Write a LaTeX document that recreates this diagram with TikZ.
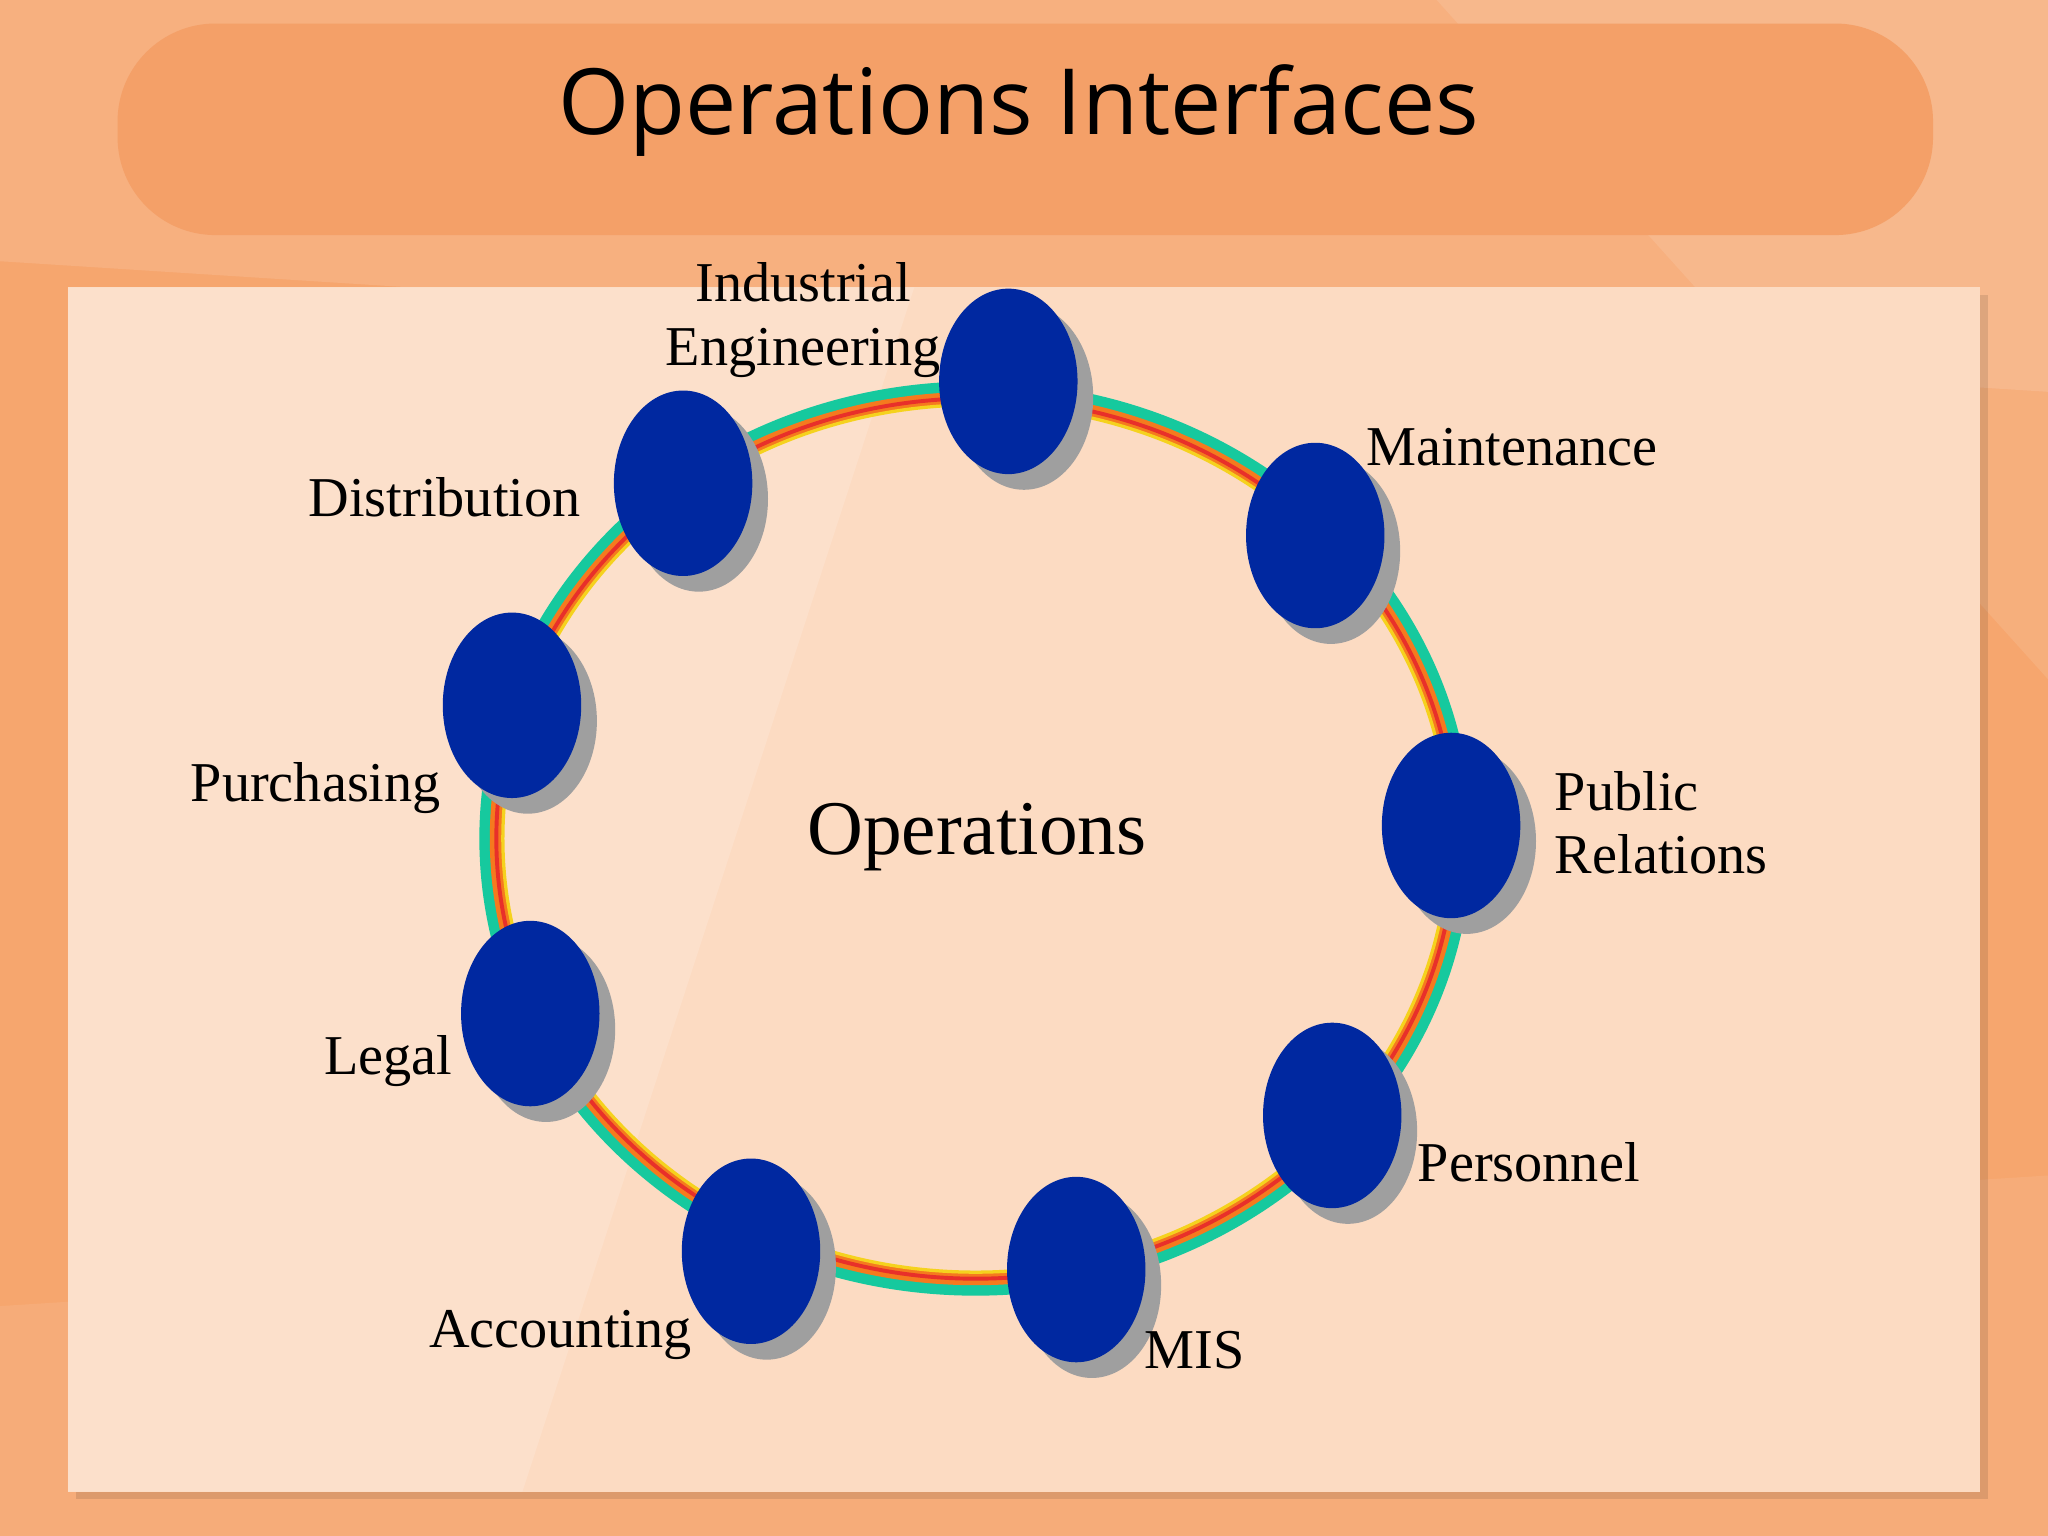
\documentclass[tikz,border=0pt]{standalone}
\usepackage{fontspec}
\setmainfont{Liberation Serif}
\newfontfamily\titlefont{Open Sans}
\usetikzlibrary{shapes.geometric}
\definecolor{bgor}{HTML}{F6A66E}
\definecolor{band}{HTML}{F4A068}
\definecolor{panel}{HTML}{FCDBC2}
\definecolor{navy}{HTML}{0028A0}
\definecolor{teal}{HTML}{16C99E}
\definecolor{ringor}{HTML}{F57A1E}
\definecolor{ringred}{HTML}{E8302A}
\definecolor{ringyel}{HTML}{F5D21E}
\newlength{\myu}\setlength{\myu}{0.01306cm}
\tikzset{
 dot/.style={ellipse,minimum width=106\myu,minimum height=142\myu,fill=navy,inner sep=0pt},
 shad/.style={ellipse,minimum width=106\myu,minimum height=142\myu,fill=gray!75,inner sep=0pt},
 lbl/.style={font=\fontsize{16}{18}\selectfont,inner sep=0pt},
}
\begin{document}
\begin{tikzpicture}[x=0.01306cm,y=-0.01306cm]
\useasboundingbox (0,0) rectangle (1568,1176);
\fill[bgor] (0,0) rectangle (1568,1176);
\fill[white,opacity=0.12] (0,0) -- (1568,0) -- (1568,300) -- (0,200) -- cycle;
\fill[white,opacity=0.10] (1100,0) -- (1568,0) -- (1568,520) -- cycle;
\fill[white,opacity=0.08] (0,1176) -- (0,1000) -- (1568,900) -- (1568,1176) -- cycle;
\fill[band,rounded corners=75\myu] (90,18) rectangle (1480,180);
\node[font=\titlefont\fontsize{26}{30}\selectfont] (title) at (780,85) {Operations Interfaces};
\fill[black,opacity=0.1] (58,226) rectangle (1522,1148);
\fill[panel] (52,220) rectangle (1516,1142);
\fill[white,opacity=0.15] (52,220) -- (700,220) -- (400,1142) -- (52,1142) -- cycle;
\draw[teal,line width=16\myu] (747,642) ellipse (372 and 342);
\draw[ringor,line width=10\myu] (747,642) ellipse (367 and 337);
\draw[ringred,line width=3\myu] (747,642) ellipse (367 and 337);
\draw[ringyel,line width=2.5\myu] (747,642) ellipse (362 and 332);
\node[font=\fontsize{22}{26}\selectfont] (ops) at (748,641) {Operations};
\foreach \n/\x/\y in {ie/772/292,mt/1007/410,pr/1111/632,pe/1020/854,mis/824/972,ac/575/958,le/406/776,pu/392/540,di/523/370}{
 \node[shad] (\n s) at (\x+12,\y+12) {};
 \node[dot] (\n) at (\x,\y) {};
}
\node[lbl,align=center] (ielbl) at (615,245) {Industrial\\Engineering};
\node[lbl,anchor=west] (mtl) at (1046,342) {Maintenance};
\node[lbl,anchor=west,align=left] (prl) at (1190,630) {Public\\Relations};
\node[lbl,anchor=west] (pel) at (1085,890) {Personnel};
\node[lbl,anchor=west] (misl) at (876,1034) {MIS};
\node[lbl,anchor=east] (acl) at (530,1022) {Accounting};
\node[lbl,anchor=east] (lel) at (347,812) {Legal};
\node[lbl,anchor=east] (pul) at (338,603) {Purchasing};
\node[lbl,anchor=east] (dil) at (445,381) {Distribution};
\end{tikzpicture}
\end{document}
